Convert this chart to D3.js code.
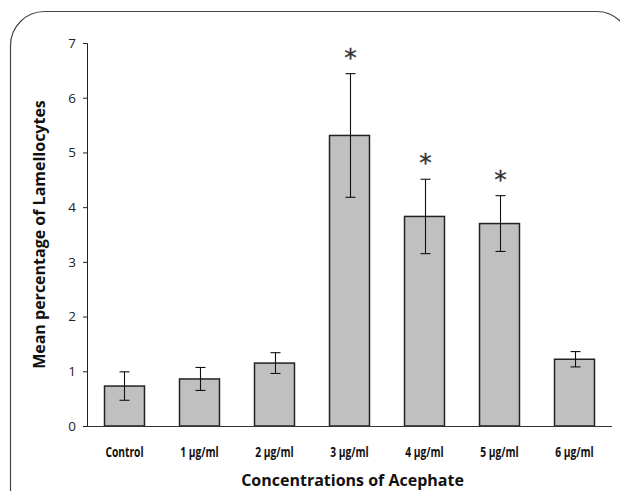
<!DOCTYPE html>
<html><head><meta charset="utf-8">
<script src="https://cdn.jsdelivr.net/npm/d3@7"></script>
<style>body{margin:0;background:#fff}svg{display:block}</style>
</head><body>
<svg id="c" width="620" height="491"></svg>
<script>
const categories = ["Control","1 µg/ml","2 µg/ml","3 µg/ml","4 µg/ml","5 µg/ml","6 µg/ml"];
const means = [0.73, 0.86, 1.15, 5.31, 3.83, 3.70, 1.22];
const errors = [0.26, 0.21, 0.19, 1.13, 0.68, 0.51, 0.14];
const significant = [false,false,false,true,true,true,false];
const yTicks = [0,1,2,3,4,5,6,7];
const xTitle = "Concentrations of Acephate";
const yTitle = "Mean percentage of Lamellocytes";

(function(){
const svg = d3.select("#c");
const pL = 87, pR = 612, pT = 43, pB = 426;

// rounded frame
svg.append("rect").attr("x",10.5).attr("y",11.5).attr("width",620).attr("height",520)
  .attr("rx",34).attr("ry",34).attr("fill","none").attr("stroke","#444").attr("stroke-width",1.2);

const x = d3.scaleBand().domain(categories).range([pL,pR]).paddingInner(0.467).paddingOuter(0.2335);
const y = d3.scaleLinear().domain([0,7]).range([pB,pT]);

const ya = svg.append("g").attr("transform",`translate(${pL},0)`)
  .call(d3.axisLeft(y).tickValues(yTicks).tickSize(4).tickPadding(7).tickFormat(d3.format("d")));
ya.select(".domain").attr("stroke","#222").attr("d",`M-4,${pT+0.5}H0.5V${pB}`);
ya.selectAll(".tick line").attr("stroke","#222");
ya.selectAll(".tick text").attr("font-family","'Open Sans',sans-serif").attr("font-size",13.5).attr("fill","#222");

// bars
svg.selectAll("rect.bar").data(categories).join("rect").attr("class","bar")
  .attr("x",d=>x(d)).attr("width",x.bandwidth())
  .attr("y",(d,i)=>y(means[i])).attr("height",(d,i)=>y(0)-y(means[i]))
  .attr("fill","#c0c0c0").attr("stroke","#222").attr("stroke-width",1.5);

// x axis line
svg.append("line").attr("x1",pL).attr("x2",pR).attr("y1",pB+0.5).attr("y2",pB+0.5)
  .attr("stroke","#333").attr("stroke-width",1.2);

// error bars
const eb = svg.append("g").attr("stroke","#111").attr("stroke-width",1.1);
categories.forEach((c,i)=>{
  const cx = Math.round(x(c)+x.bandwidth()/2)+0.5;
  const hi = y(means[i]+errors[i]), lo = y(means[i]-errors[i]);
  eb.append("line").attr("x1",cx).attr("x2",cx).attr("y1",hi).attr("y2",lo);
  eb.append("line").attr("x1",cx-5).attr("x2",cx+5).attr("y1",hi).attr("y2",hi);
  eb.append("line").attr("x1",cx-5).attr("x2",cx+5).attr("y1",lo).attr("y2",lo);
  if(significant[i]){
    svg.append("text").attr("x",cx).attr("y",hi-8).attr("text-anchor","middle")
      .attr("font-family","'DejaVu Sans',sans-serif").attr("font-size",25).attr("fill","#333")
      .attr("stroke","#333").attr("stroke-width",0.3).text("*");
  }
});

// category labels (condensed)
svg.selectAll("text.cat").data(categories).join("text").attr("class","cat")
  .attr("transform",d=>`translate(${x(d)+x.bandwidth()/2},457) scale(0.76,1)`)
  .attr("text-anchor","middle")
  .attr("font-family","'Open Sans',sans-serif").attr("font-weight","bold").attr("font-size",13.5).attr("fill","#111")
  .text(d=>d);

svg.append("text").attr("x",(pL+pR)/2+3).attr("y",486).attr("text-anchor","middle")
  .attr("font-family","'Open Sans',sans-serif").attr("font-weight","bold").attr("font-size",16).attr("fill","#111")
  .text(xTitle);

svg.append("text").attr("transform",`translate(45,${(pT+pB)/2}) rotate(-90)`).attr("text-anchor","middle")
  .attr("font-family","'Open Sans',sans-serif").attr("font-weight","bold").attr("font-size",16).attr("fill","#111")
  .text(yTitle);
})();
</script>
</body></html>
